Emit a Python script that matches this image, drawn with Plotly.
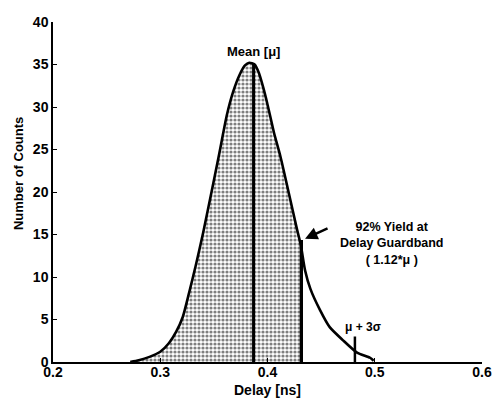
import plotly.graph_objects as go

# Delay distribution curve
delay_ns = [0.272, 0.280, 0.290, 0.300, 0.308, 0.315, 0.321, 0.327, 0.333, 0.340,
            0.347, 0.355, 0.362, 0.368, 0.374, 0.379, 0.383, 0.388, 0.392, 0.396,
            0.400, 0.406, 0.412, 0.420, 0.4275, 0.431, 0.435, 0.440, 0.449, 0.458,
            0.470, 0.4835, 0.4956, 0.499]
counts = [0.0, 0.2, 0.6, 1.2, 2.2, 3.6, 5.3, 8.2, 11.3, 15.2,
          19.5, 24.5, 29.0, 31.8, 33.8, 34.9, 35.2, 35.0, 34.0, 32.3,
          30.3, 27.0, 24.2, 19.8, 15.6, 13.8, 10.8, 8.6, 6.1, 4.1,
          2.6, 1.1, 0.5, 0.15]

mean_delay = 0.387
mean_peak = 35.1
guardband_delay = 0.430
guardband_count = 14.35
sigma3_delay = 0.4815
sigma3_height = 3.0

x_ticks = [0.2, 0.3, 0.4, 0.5, 0.6]
y_ticks = [0, 5, 10, 15, 20, 25, 30, 35, 40]

FONT = "Liberation Sans, Arial, sans-serif"

# shaded part of the curve up to the guardband
shade_x = [x for x in delay_ns if x <= guardband_delay] + [guardband_delay]
shade_y = [y for x, y in zip(delay_ns, counts) if x <= guardband_delay] + [guardband_count]

fig = go.Figure()

fig.add_trace(go.Scatter(
    x=shade_x, y=shade_y, mode="lines", line=dict(width=0, color="black"),
    fill="tozeroy", fillcolor="white",
    fillpattern=dict(shape=".", fgcolor="black", bgcolor="white", size=4, solidity=0.5),
    hoverinfo="skip", showlegend=False))

fig.add_trace(go.Bar(
    x=[guardband_delay], y=[guardband_count], width=0.0065,
    marker=dict(color="black", line=dict(width=0)), showlegend=False))

fig.add_trace(go.Scatter(
    x=delay_ns, y=counts, mode="lines",
    line=dict(color="black", width=2.6, shape="spline", smoothing=0.6),
    showlegend=False))

fig.add_trace(go.Scatter(
    x=[mean_delay, mean_delay], y=[0, mean_peak], mode="lines",
    line=dict(color="black", width=3), showlegend=False))

fig.add_trace(go.Scatter(
    x=[sigma3_delay, sigma3_delay], y=[0, sigma3_height], mode="lines",
    line=dict(color="black", width=2.5), showlegend=False))

bold = dict(family=FONT, size=14, color="black", weight="bold")

fig.update_xaxes(range=[0.2, 0.6], tickvals=x_ticks, ticktext=[f"{v:.1f}" for v in x_ticks],
                 showline=True, linecolor="black", linewidth=1.5, ticks="inside",
                 ticklen=4, tickcolor="black", showgrid=False, zeroline=False,
                 tickfont=bold, automargin=False, ticklabelstandoff=-4)
fig.update_yaxes(range=[0, 40], tickvals=y_ticks, showline=True, linecolor="black",
                 linewidth=1.5, ticks="inside", ticklen=4, tickcolor="black",
                 showgrid=False, zeroline=False, tickfont=bold, automargin=False)

annots = [
    dict(x=mean_delay, y=36.5, text="Mean [μ]", showarrow=False,
         font=dict(family=FONT, size=13, color="black", weight="bold")),
    dict(x=0.516, y=14.0, text="92% Yield at<br>Delay Guardband<br>( 1.12*μ )",
         showarrow=False, align="center",
         font=dict(family=FONT, size=12.5, color="black", weight="bold")),
    dict(x=0.435, y=14.5, ax=24, ay=-11, text="", showarrow=True, arrowhead=2,
         arrowsize=1, arrowwidth=2.5, arrowcolor="black"),
    dict(x=0.489, y=4.1, text="μ + 3σ", showarrow=False,
         font=dict(family=FONT, size=12, color="black", weight="bold")),
    dict(xref="paper", yref="paper", x=-0.079, y=0.553, text="Number of Counts",
         textangle=-90, showarrow=False, xanchor="center", yanchor="middle",
         font=dict(family=FONT, size=13, color="black", weight="bold")),
    dict(xref="paper", yref="paper", x=0.5, y=-0.082, text="Delay [ns]",
         showarrow=False, xanchor="center", yanchor="middle",
         font=dict(family=FONT, size=14, color="black", weight="bold")),
]

fig.update_layout(
    width=495, height=398, margin=dict(l=53, r=13, t=22, b=36),
    plot_bgcolor="white", paper_bgcolor="white", annotations=annots,
    showlegend=False, bargap=0)

fig.write_html("out.html")
